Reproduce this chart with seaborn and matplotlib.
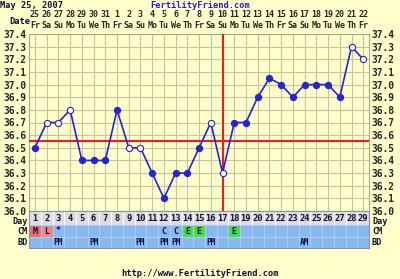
import matplotlib
matplotlib.use("Agg")
import matplotlib.pyplot as plt
import seaborn as sns
import pandas as pd
import numpy as np

# ---- data ----
cycle_days = list(range(1, 30))
dates = [25, 26, 27, 28, 29, 30, 31, 1, 2, 3, 4, 5, 6, 7, 8, 9, 10, 11, 12, 13, 14, 15, 16, 17, 18, 19, 20, 21, 22]
weekdays = ["Fr", "Sa", "Su", "Mo", "Tu", "We", "Th", "Fr", "Sa", "Su", "Mo", "Tu", "We", "Th",
            "Fr", "Sa", "Su", "Mo", "Tu", "We", "Th", "Fr", "Sa", "Su", "Mo", "Tu", "We", "Th", "Fr"]
temps = [36.5, 36.7, 36.7, 36.8, 36.4, 36.4, 36.4, 36.8, 36.5, 36.5, 36.3, 36.1, 36.3, 36.3, 36.5,
         36.7, 36.3, 36.7, 36.7, 36.9, 37.05, 37.0, 36.9, 37.0, 37.0, 37.0, 36.9, 37.3, 37.2]
open_marker = [0, 1, 1, 1, 0, 0, 0, 0, 1, 1, 0, 0, 0, 0, 0,
               1, 1, 0, 0, 0, 0, 0, 0, 0, 0, 0, 0, 1, 1]
coverline = 36.55
ovulation_day = 17
cm_labels = {1: "M", 2: "L", 3: "*", 12: "C", 13: "C", 14: "E", 15: "E", 18: "E"}
bd_labels = {3: "PM", 6: "PM", 10: "PM", 12: "PM", 13: "PM", 16: "PM", 24: "AM"}
yticks = [36.0, 36.1, 36.2, 36.3, 36.4, 36.5, 36.6, 36.7, 36.8, 36.9, 37.0, 37.1, 37.2, 37.3, 37.4]

sns.set_style("white")
plt.rcParams["font.family"] = ["DejaVu Sans Mono", "DejaVu Sans"]
plt.rcParams["font.weight"] = "bold"

BG = "#ffffcc"
GRID = "#c4c4a4"
BLUE = "#2323d8"
RED = "#ee1c1c"

W, H = 400, 279
fig = plt.figure(figsize=(W / 100, H / 100), dpi=100, facecolor=BG)

L, R = 29.1, 369.1
ax = fig.add_axes([L / W, 1 - 211 / H, (R - L) / W, 177 / H], facecolor=BG)
df = pd.DataFrame({"day": cycle_days, "temp": temps, "open": open_marker})

sns.lineplot(data=df, x="day", y="temp", ax=ax, color=BLUE, linewidth=1.2, zorder=4)
sns.scatterplot(data=df[df["open"] == 0], x="day", y="temp", ax=ax, color=BLUE,
                edgecolor=BLUE, s=20, linewidth=0.8, zorder=5, clip_on=False)
sns.scatterplot(data=df[df["open"] == 1], x="day", y="temp", ax=ax, color="white",
                edgecolor=BLUE, s=20, linewidth=0.8, zorder=5, clip_on=False)

ax.axhline(coverline, color=RED, linewidth=1.5, zorder=3)
ax.axvline(ovulation_day, color=RED, linewidth=1.5, zorder=3)

ax.set_xlim(0.5, 29.5)
ax.set_ylim(36.0, 37.4)
ax.set_xticks(cycle_days)
ax.set_xticklabels([f"{d}\n{w}" for d, w in zip(dates, weekdays)], fontsize=6, linespacing=1.2)
ax.set_yticks(yticks)
ax.set_yticklabels([f"{v:.1f}" for v in yticks], fontsize=6.9)
ax.tick_params(axis="x", top=True, labeltop=True, bottom=False, labelbottom=False, length=0, pad=3)
ax.tick_params(axis="y", left=False, right=False, labelleft=True, labelright=True, length=0, pad=2)
ax.grid(True, color=GRID, linewidth=0.8, zorder=0)
ax.set_axisbelow(True)
ax.set_xlabel("")
ax.set_ylabel("")
for sp in ax.spines.values():
    sp.set_color("#a8a890")
    sp.set_linewidth(0.8)

# ---- rows below ----
ax2 = fig.add_axes([L / W, 1 - 248 / H, (R - L) / W, 37 / H], facecolor=BG)
ax2.set_xlim(0.5, 29.5)
ax2.set_ylim(0, 37)
day_colors = ["#dcdce6"] * 29
cm_colors = []
for d in cycle_days:
    lab = cm_labels.get(d, "")
    if lab == "M":
        cm_colors.append("#ee6868")
    elif lab == "L":
        cm_colors.append("#f08484")
    elif lab == "E":
        cm_colors.append("#44dd44")
    else:
        cm_colors.append("#88b8f0")
bd_colors = ["#88b8f0"] * 29
ax2.bar(cycle_days, [14] * 29, bottom=23, width=1, color=day_colors, edgecolor="white", linewidth=0.8)
ax2.bar(cycle_days, [12] * 29, bottom=11, width=1, color=cm_colors, edgecolor="#a8ccf4", linewidth=0.8)
ax2.bar(cycle_days, [11] * 29, bottom=0, width=1, color=bd_colors, edgecolor="#a8ccf4", linewidth=0.8)
for d in cycle_days:
    ax2.text(d, 29.5, str(d), ha="center", va="center", fontsize=6.3, color="#101030")
for d, lab in cm_labels.items():
    ax2.text(d, 17, lab, ha="center", va="center", fontsize=6, color="#101050")
for d, lab in bd_labels.items():
    ax2.text(d, 5.5, lab, ha="center", va="center", fontsize=5.6, color="#101050")
ax2.set_xticks([])
ax2.set_yticks([])
for sp in ax2.spines.values():
    sp.set_color("#9090a0")
    sp.set_linewidth(0.8)

# row labels
for txt, yp in [("Day", 216.5), ("CM", 226.5), ("BD", 238)]:
    fig.text(27.5 / W, 1 - yp / H, txt, ha="right", va="top", fontsize=6.1, color="#101030")
    fig.text(372 / W, 1 - yp / H, txt, ha="left", va="top", fontsize=6.1, color="#101030")

fig.text(9 / W, 1 - 22 / H, "Date", ha="left", va="center", fontsize=6.3, color="#101030")
fig.text(0.5 / W, 1 - 5 / H, "May 25, 2007", ha="left", va="center", fontsize=6.2, color="#101030")
fig.text(200 / W, 1 - 5 / H, "FertilityFriend.com", ha="center", va="center", fontsize=6.3, color="#2020c0")
fig.text(200 / W, 1 - 269 / H, "http://www.FertilityFriend.com", ha="center", va="top",
         fontsize=6.3, color="#101030")

fig.savefig("out.png", dpi=100, facecolor=BG)
